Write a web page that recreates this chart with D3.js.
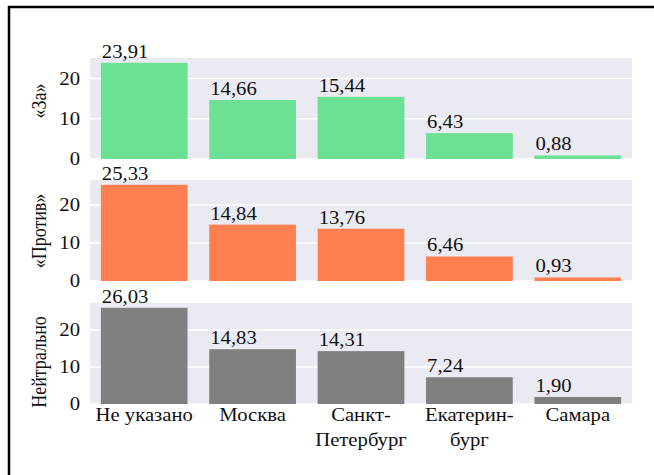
<!DOCTYPE html>
<html>
<head>
<meta charset="utf-8">
<script src="https://cdn.jsdelivr.net/npm/d3@7"></script>
<style>
  body { margin: 0; background: #fff; }
</style>
</head>
<body>
<svg></svg>
<script>
const width = 654;
const height = 475;

// data
const categories = ['Не указано', 'Москва', 'Санкт-Петербург', 'Екатеринбург', 'Самара'];
const categoryLines = [['Не указано'], ['Москва'], ['Санкт-', 'Петербург'], ['Екатерин-', 'бург'], ['Самара']];
const seriesNames = ['«За»', '«Против»', 'Нейтрально'];
const forValues = [23.91, 14.66, 15.44, 6.43, 0.88];
const againstValues = [25.33, 14.84, 13.76, 6.46, 0.93];
const neutralValues = [26.03, 14.83, 14.31, 7.24, 1.90];
const yTicks = [0, 10, 20];

const seriesValues = [forValues, againstValues, neutralValues];
const colors = ['#6ce093', '#ff7f50', '#808080'];

const panelTops = [58, 180, 303];
const panelH = 101;
const labelCenters = [101, 231, 362];
const left = 90, right = 632;
// the picture is a bit wider than tall, so text is stretched sideways
const stretch = 1.15;
const fontSize = 18;
const font = '"Liberation Serif", monospace';

const svg = d3.select('svg')
  .attr('width', width)
  .attr('height', height);

svg.append('rect')
  .attr('width', width)
  .attr('height', height)
  .attr('fill', '#fff');

// frame (top and left only)
svg.append('line')
  .attr('x1', 8).attr('x2', width)
  .attr('y1', 7).attr('y2', 7)
  .attr('stroke', '#000').attr('stroke-width', 2.5);
svg.append('line')
  .attr('x1', 9).attr('x2', 9)
  .attr('y1', 6).attr('y2', height)
  .attr('stroke', '#000').attr('stroke-width', 2.5);

const xScale = d3.scaleBand()
  .domain(categories)
  .range([left, right])
  .paddingInner(0.2)
  .paddingOuter(0.1);

const fmt = v => d3.format('.2f')(v).replace('.', ',');

seriesValues.forEach((values, i) => {
  const top = panelTops[i];
  const yScale = d3.scaleLinear()
    .domain([0, d3.max(values) * 1.05])
    .range([top + panelH, top]);

  const g = svg.append('g');

  // background
  g.append('rect')
    .attr('x', left)
    .attr('y', top)
    .attr('width', right - left)
    .attr('height', panelH)
    .attr('fill', '#eaeaf2');

  // grid
  g.selectAll('.grid')
    .data(yTicks)
    .enter()
    .append('line')
    .attr('x1', left).attr('x2', right)
    .attr('y1', d => yScale(d)).attr('y2', d => yScale(d))
    .attr('stroke', '#fff')
    .attr('stroke-width', 1.5);

  // y tick labels, drawn by hand so the font sticks
  g.selectAll('.tick-label')
    .data(yTicks)
    .enter()
    .append('text')
    .attr('transform', d => `translate(${left - 10}, ${yScale(d) + 6}) scale(${stretch}, 1)`)
    .attr('text-anchor', 'end')
    .attr('font-family', font)
    .attr('font-size', fontSize)
    .attr('fill', '#111')
    .text(d => d);

  // bars
  g.selectAll('.bar')
    .data(values)
    .enter()
    .append('rect')
    .attr('x', (d, j) => xScale(categories[j]))
    .attr('y', d => yScale(d))
    .attr('width', xScale.bandwidth())
    .attr('height', d => yScale(0) - yScale(d))
    .attr('fill', colors[i]);

  // value labels
  g.selectAll('.val')
    .data(values)
    .enter()
    .append('text')
    .attr('transform', (d, j) => `translate(${xScale(categories[j]) + 1}, ${yScale(d) - 5}) scale(${stretch}, 1)`)
    .attr('font-family', font)
    .attr('font-size', fontSize)
    .attr('fill', '#111')
    .text(d => fmt(d));

  // y label
  g.append('text')
    .attr('transform', `translate(46, ${labelCenters[i]}) rotate(-90) scale(1, ${stretch})`)
    .attr('text-anchor', 'middle')
    .attr('font-family', font)
    .attr('font-size', fontSize)
    .attr('fill', '#111')
    .text(seriesNames[i]);
});

// category labels
const catText = svg.selectAll('.cat')
  .data(categories)
  .enter()
  .append('text')
  .attr('text-anchor', 'middle')
  .attr('font-family', font)
  .attr('font-size', fontSize)
  .attr('fill', '#111')
  .attr('transform', d => `translate(${xScale(d) + xScale.bandwidth() / 2}, 421) scale(${stretch}, 1)`);

catText.selectAll('tspan')
  .data((d, j) => categoryLines[j])
  .enter()
  .append('tspan')
  .attr('x', 0)
  .attr('dy', (d, k) => k === 0 ? 0 : 25)
  .text(d => d);
</script>
</body>
</html>
